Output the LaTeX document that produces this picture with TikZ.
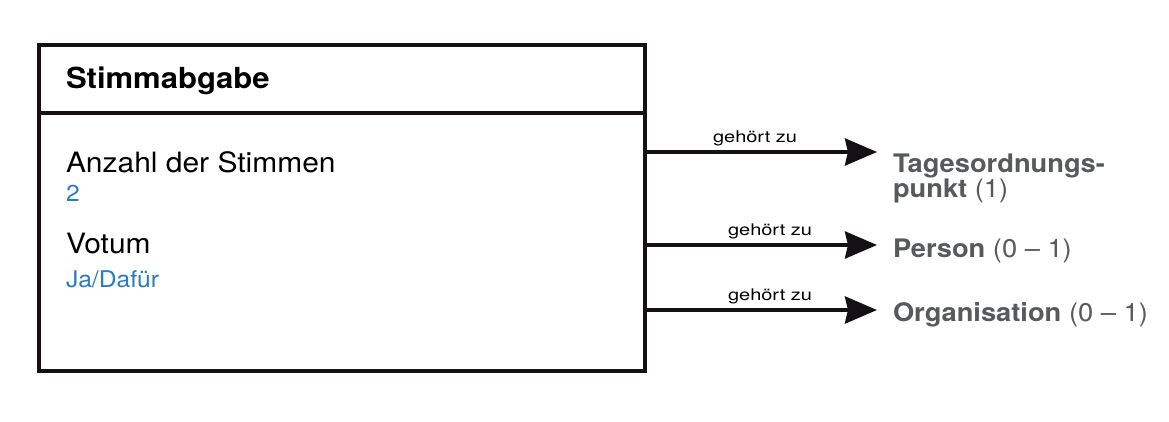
\documentclass[tikz,border=0pt]{standalone}
\usepackage{fontspec}
\setmainfont{TeX Gyre Heros}[FakeStretch=1.07]
\newfontfamily\smallfam{TeX Gyre Heros}[FakeStretch=1.25]
\usetikzlibrary{arrows.meta}
\definecolor{boxline}{HTML}{151014}
\definecolor{valblue}{HTML}{2B7BC1}
\definecolor{tgray}{HTML}{58595B}
\begin{document}
\begin{tikzpicture}[x=1pt,y=-1pt,
  txt/.style={anchor=base west,inner sep=0pt,outer sep=0pt},
  attr/.style={txt,font=\fontsize{28}{30}\selectfont,text=black},
  val/.style={txt,font=\fontsize{23}{25}\selectfont,text=valblue},
  rel/.style={txt,font=\smallfam\fontsize{16}{18}\selectfont,text=black},
  target/.style={txt,font=\fontsize{25.5}{24.5}\selectfont,text=tgray,align=left},
  conn/.style={line width=4pt,draw=boxline,-{Stealth[length=32pt,width=27pt,inset=3pt]}}]
\useasboundingbox (0,0) rectangle (1169,422);
\node[draw=boxline,line width=4pt,minimum width=606pt,minimum height=326pt,inner sep=0pt] (box) at (342,208) {};
\coordinate (divL) at (39,113);
\coordinate (divR) at (645,113);
\draw[line width=4pt,draw=boxline] (divL) -- (divR);
\node[txt,font=\bfseries\fontsize{29}{31}\selectfont] (title) at (66,89) {Stimmabgabe};
\node[attr] (a1) at (66,173) {Anzahl der Stimmen};
\node[val] (v1) at (66,201) {2};
\node[attr] (a2) at (66,253) {Votum};
\node[val] (v2) at (66,287) {Ja/Dafür};
% targets
\node[target] (t1) at (893,173) {\textbf{Tagesordnungs-}};
\node[target] (t1b) at (893,197) {\textbf{punkt} (1)};
\node[target] (t2) at (893,257) {\textbf{Person} (0 – 1)};
\node[target] (t3) at (893,321) {\textbf{Organisation} (0 – 1)};
% connectors
\coordinate (s1) at (645,152); \coordinate (e1) at (877,152);
\coordinate (s2) at (645,245); \coordinate (e2) at (877,245);
\coordinate (s3) at (645,310); \coordinate (e3) at (877,310);
\draw[conn] (s1) -- (e1);
\draw[conn] (s2) -- (e2);
\draw[conn] (s3) -- (e3);
\node[rel] (r1) at (713,143) {gehört zu};
\node[rel] (r2) at (728,235) {gehört zu};
\node[rel] (r3) at (728,300) {gehört zu};
\end{tikzpicture}
\end{document}
